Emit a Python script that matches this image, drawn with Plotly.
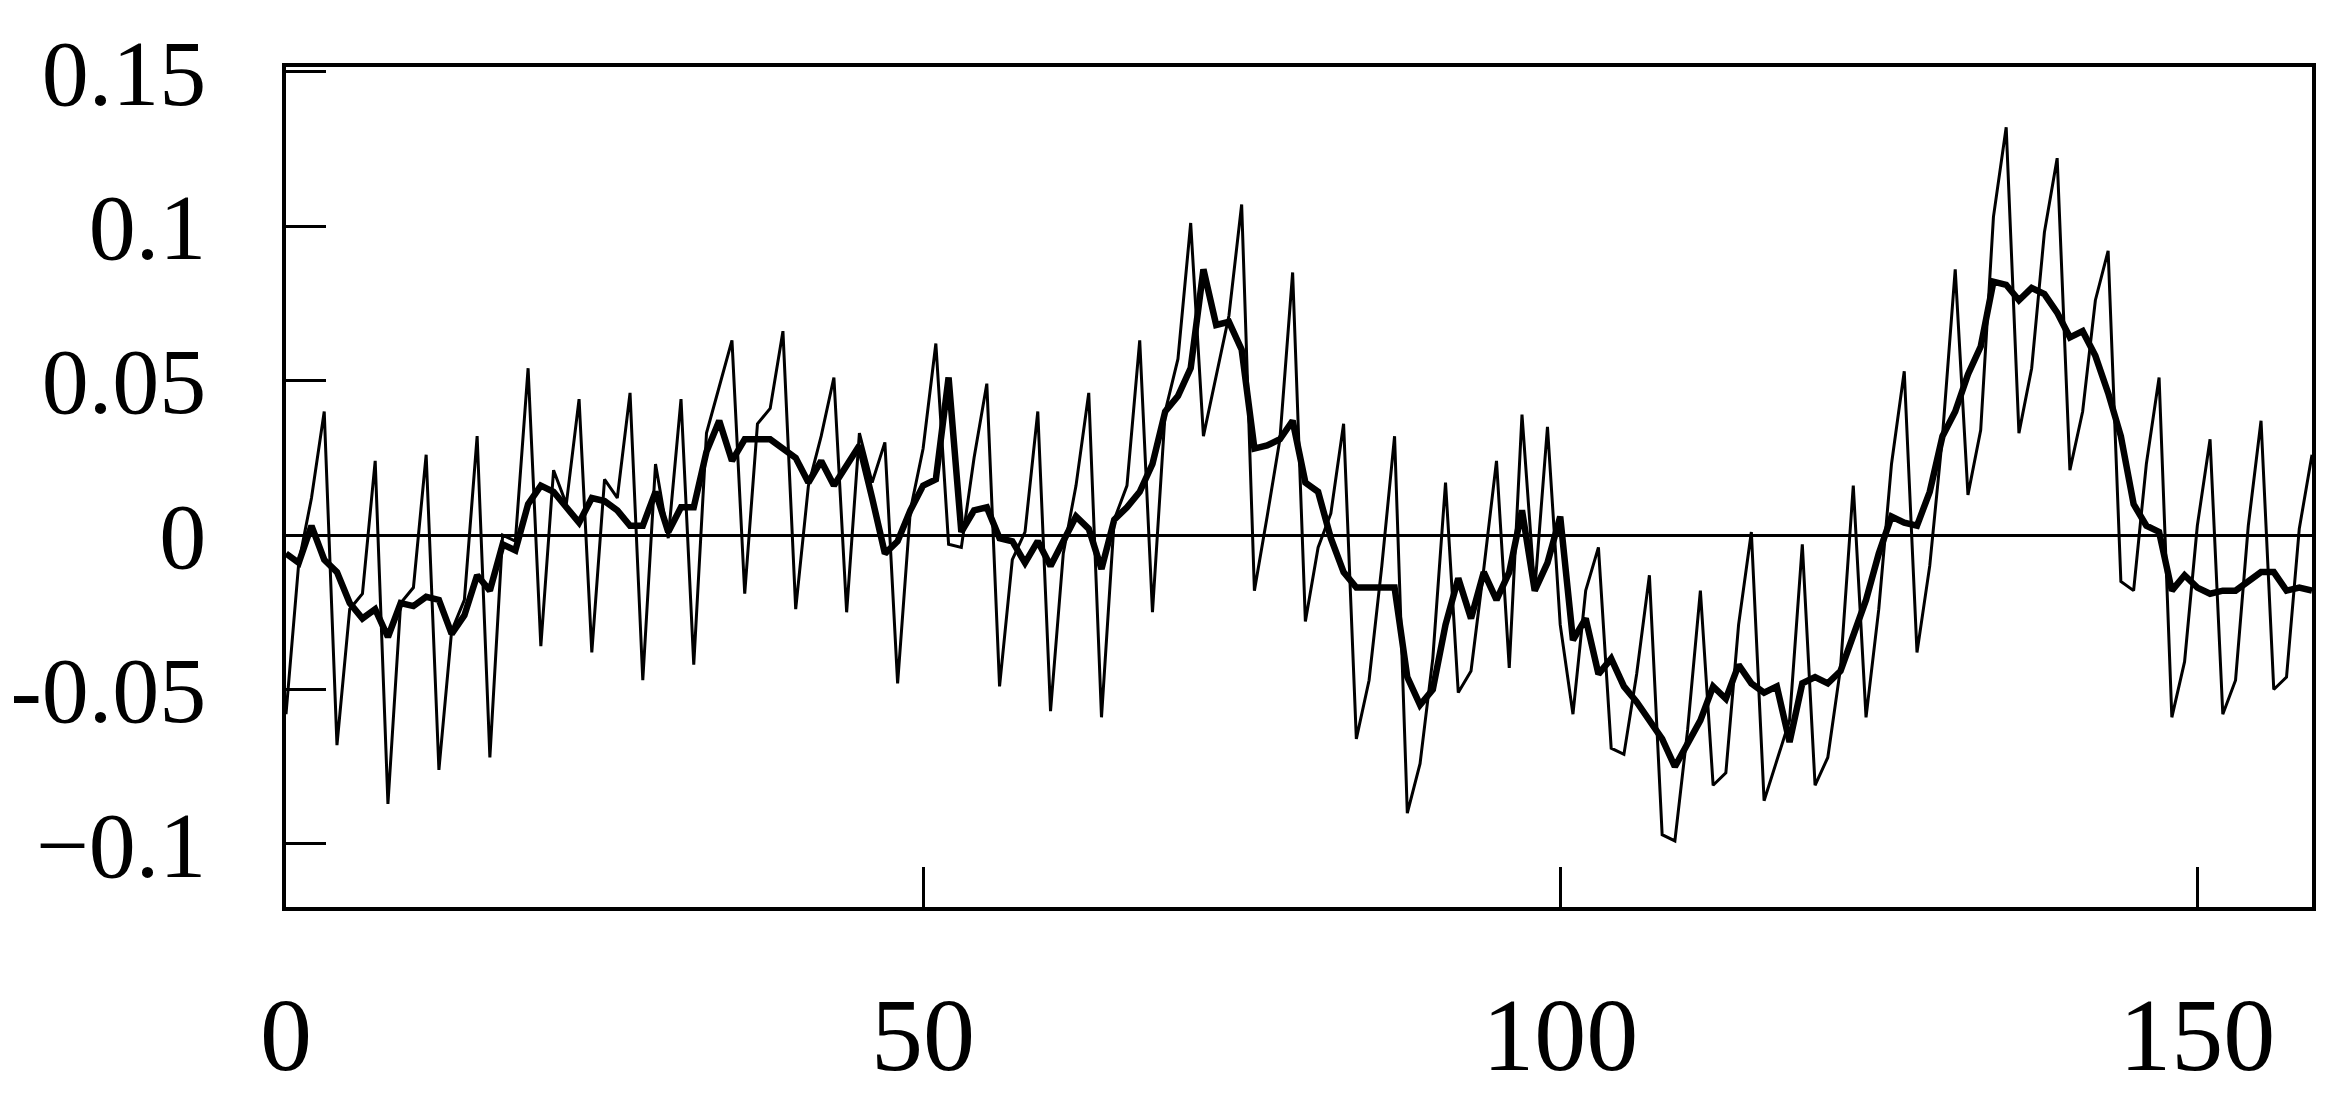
import plotly.graph_objects as go

x_index = list(range(160))

raw_series = [
    -0.058, -0.009, 0.012, 0.040, -0.068, -0.024, -0.019, 0.024, -0.087, -0.022,
    -0.017, 0.026, -0.076, -0.031, -0.021, 0.032, -0.072, 0.000, -0.002, 0.054,
    -0.036, 0.021, 0.010, 0.044, -0.038, 0.018, 0.012, 0.046, -0.047, 0.023,
    -0.001, 0.044, -0.042, 0.033, 0.048, 0.063, -0.019, 0.036, 0.041, 0.066,
    -0.024, 0.016, 0.032, 0.051, -0.025, 0.033, 0.017, 0.030, -0.048, 0.008,
    0.028, 0.062, -0.003, -0.004, 0.025, 0.049, -0.049, -0.008, 0.001, 0.040,
    -0.057, -0.006, 0.016, 0.046, -0.059, 0.005, 0.016, 0.063, -0.025, 0.040,
    0.057, 0.101, 0.032, 0.051, 0.071, 0.107, -0.018, 0.006, 0.031, 0.085,
    -0.028, -0.004, 0.007, 0.036, -0.066, -0.047, -0.010, 0.032, -0.090, -0.074,
    -0.040, 0.017, -0.051, -0.044, -0.011, 0.024, -0.043, 0.039, -0.018, 0.035,
    -0.029, -0.058, -0.018, -0.004, -0.069, -0.071, -0.045, -0.013, -0.097, -0.099,
    -0.063, -0.018, -0.081, -0.077, -0.029, 0.001, -0.086, -0.073, -0.060, -0.003,
    -0.081, -0.072, -0.043, 0.016, -0.059, -0.024, 0.023, 0.053, -0.038, -0.010,
    0.032, 0.086, 0.013, 0.034, 0.103, 0.132, 0.033, 0.054, 0.098, 0.122,
    0.021, 0.040, 0.076, 0.092, -0.015, -0.018, 0.023, 0.051, -0.059, -0.041,
    0.003, 0.031, -0.058, -0.047, 0.003, 0.037, -0.050, -0.046, 0.002, 0.026,
]

smooth_series = [
    -0.006, -0.009, 0.003, -0.008, -0.012, -0.022, -0.027, -0.024, -0.033, -0.022,
    -0.023, -0.020, -0.021, -0.032, -0.026, -0.013, -0.018, -0.003, -0.005, 0.010,
    0.016, 0.014, 0.009, 0.004, 0.012, 0.011, 0.008, 0.003, 0.003, 0.014,
    0.001, 0.009, 0.009, 0.027, 0.037, 0.024, 0.031, 0.031, 0.031, 0.028,
    0.025, 0.017, 0.024, 0.016, 0.023, 0.029, 0.012, -0.006, -0.002, 0.008,
    0.016, 0.018, 0.051, 0.001, 0.008, 0.009, -0.001, -0.002, -0.009, -0.002,
    -0.010, -0.002, 0.006, 0.002, -0.011, 0.005, 0.009, 0.014, 0.023, 0.040,
    0.045, 0.054, 0.086, 0.068, 0.069, 0.060, 0.028, 0.029, 0.031, 0.037,
    0.017, 0.014, -0.001, -0.012, -0.017, -0.017, -0.017, -0.017, -0.046, -0.055,
    -0.050, -0.029, -0.014, -0.027, -0.012, -0.021, -0.012, 0.008, -0.018, -0.009,
    0.006, -0.034, -0.027, -0.045, -0.040, -0.049, -0.054, -0.060, -0.066, -0.075,
    -0.067, -0.060, -0.049, -0.053, -0.042, -0.048, -0.051, -0.049, -0.067, -0.048,
    -0.046, -0.048, -0.044, -0.033, -0.021, -0.006, 0.006, 0.004, 0.003, 0.014,
    0.032, 0.040, 0.052, 0.061, 0.082, 0.081, 0.076, 0.080, 0.078, 0.072,
    0.064, 0.066, 0.058, 0.046, 0.032, 0.010, 0.003, 0.001, -0.018, -0.013,
    -0.017, -0.019, -0.018, -0.018, -0.015, -0.012, -0.012, -0.018, -0.017, -0.018,
]

x_tick_vals = [0, 50, 100, 150]
x_tick_text = ["0", "50", "100", "150"]
y_tick_vals = [0.15, 0.1, 0.05, 0, -0.05, -0.1]
y_tick_text = ["0.15", "0.1", "0.05", "0", "-0.05", "\u22120.1"]

fig = go.Figure()
fig.add_trace(go.Scatter(x=x_index, y=raw_series, mode="lines",
                         line=dict(color="black", width=3), showlegend=False))
fig.add_trace(go.Scatter(x=x_index, y=smooth_series, mode="lines",
                         line=dict(color="black", width=6.5), showlegend=False))

font_family = "Liberation Serif"
fig.update_layout(
    width=2334, height=1103, autosize=False,
    margin=dict(l=286, r=22, t=67, b=196),
    paper_bgcolor="white", plot_bgcolor="white",
    font=dict(family=font_family, color="black"),
)
fig.update_xaxes(
    range=[0, 159], tickvals=x_tick_vals, ticktext=x_tick_text,
    ticks="inside", ticklen=40, tickwidth=3, tickcolor="black",
    showline=True, linecolor="black", linewidth=4, mirror=True,
    showgrid=False, zeroline=False, automargin=False,
    tickfont=dict(family=font_family, size=104, color="black"),
    ticklabelstandoff=34,
)
fig.update_yaxes(
    range=[-0.1204, 0.1515], tickvals=y_tick_vals, ticktext=y_tick_text,
    ticks="inside", ticklen=40, tickwidth=3, tickcolor="black",
    showline=True, linecolor="black", linewidth=4, mirror=True,
    showgrid=False, zeroline=True, zerolinecolor="black", zerolinewidth=3,
    automargin=False,
    tickfont=dict(family=font_family, size=94, color="black"),
    ticklabelstandoff=57,
)

fig.write_html("out.html", config={"displayModeBar": False},
               post_script="document.body.style.margin='0px';")
